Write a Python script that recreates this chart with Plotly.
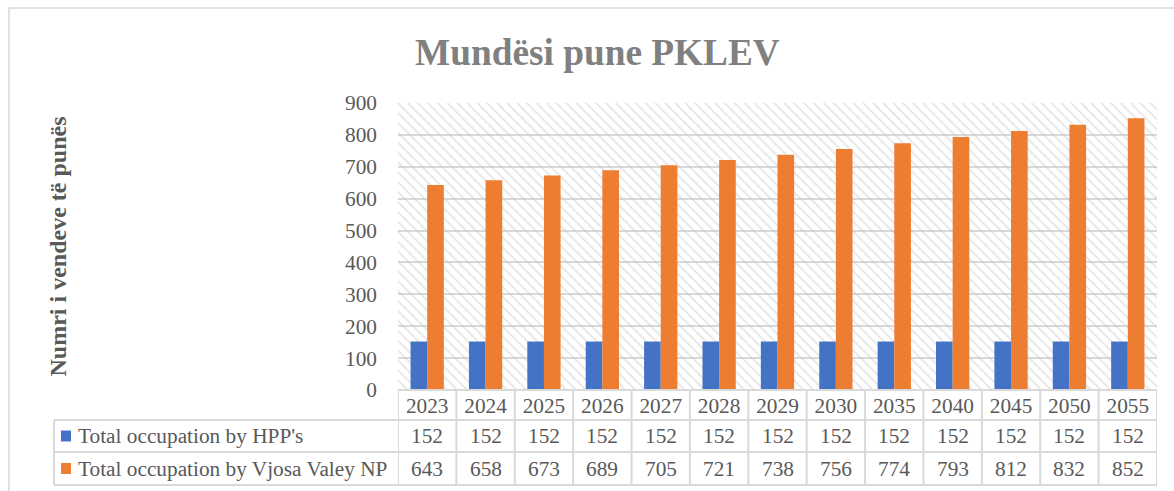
import plotly.graph_objects as go

years = ["2023", "2024", "2025", "2026", "2027", "2028", "2029", "2030", "2035", "2040", "2045", "2050", "2055"]
hpp = [152, 152, 152, 152, 152, 152, 152, 152, 152, 152, 152, 152, 152]
vjosa = [643, 658, 673, 689, 705, 721, 738, 756, 774, 793, 812, 832, 852]
series_names = ["Total occupation by HPP's", "Total occupation by Vjosa Valey NP"]
series_colors = ["#4472C4", "#ED7D31"]
y_ticks = [0, 100, 200, 300, 400, 500, 600, 700, 800, 900]

W, H = 1174, 491
FONT = "Liberation Serif"
FS = 21.3
GRID = "#d9d9d9"
TXT = "#595959"


def px(x):
    return x / W


def py(y):
    return 1 - y / H


PL, PR, PT, PB = 398, 1157, 103, 390  # plot area in pixels
ROWS = [390, 420, 452, 485]           # table row boundaries
TL = 54                               # table left edge

fig = go.Figure()

# hatched plot-area background on the primary (hidden) axes
fig.add_trace(go.Scatter(
    x=[0, 1, 1, 0, 0], y=[0, 0, 1, 1, 0], mode="lines", fill="toself",
    line=dict(width=0), fillcolor="rgba(0,0,0,0)",
    fillpattern=dict(shape="\\", size=7, solidity=0.22, fgcolor="#c4c4c4",
                     bgcolor="rgba(0,0,0,0)", fillmode="overlay"),
    hoverinfo="skip", showlegend=False, xaxis="x", yaxis="y"))

for vals, name, col in zip([hpp, vjosa], series_names, series_colors):
    fig.add_trace(go.Bar(x=years, y=vals, name=name, marker_color=col,
                         marker_line_width=0, xaxis="x2", yaxis="y2",
                         showlegend=False))

fig.update_layout(
    width=W, height=H, margin=dict(l=0, r=0, t=0, b=0, pad=0, autoexpand=False),
    autosize=False,
    paper_bgcolor="white", plot_bgcolor="white",
    barmode="group", bargap=0.43, bargroupgap=0,
    font=dict(family=FONT, color=TXT, size=FS),
    xaxis=dict(domain=[px(PL), px(PR)], range=[0, 1], visible=False, fixedrange=True,
               automargin=False),
    yaxis=dict(domain=[py(PB), py(PT)], range=[0, 1], visible=False, fixedrange=True,
               automargin=False),
    xaxis2=dict(overlaying="x", type="category", categoryorder="array",
                categoryarray=years, range=[-0.5, len(years) - 0.5],
                showgrid=False, showline=False, ticks="", zeroline=False,
                automargin=False,
                tickfont=dict(family=FONT, size=FS, color=TXT),
                ticklabelstandoff=1),
    yaxis2=dict(overlaying="y", range=[0, 900], tickvals=y_ticks,
                showgrid=True, gridcolor=GRID, gridwidth=1.8, zeroline=False,
                showline=False, ticks="", automargin=False,
                tickfont=dict(family=FONT, size=FS, color=TXT),
                ticklabelstandoff=20),
)

shapes = []
line = dict(color=GRID, width=2)
# outer chart border
shapes.append(dict(type="rect", xref="paper", yref="paper",
                   x0=px(9), x1=px(1190), y0=py(8), y1=py(500),
                   line=dict(color=GRID, width=1.5), layer="below"))
# table horizontal lines
shapes.append(dict(type="line", xref="paper", yref="paper", x0=px(PL), x1=px(PR),
                   y0=py(ROWS[0]), y1=py(ROWS[0]), line=line))
for r in ROWS[1:]:
    shapes.append(dict(type="line", xref="paper", yref="paper", x0=px(TL), x1=px(PR),
                       y0=py(r), y1=py(r), line=line))
# table vertical lines
shapes.append(dict(type="line", xref="paper", yref="paper", x0=px(TL), x1=px(TL),
                   y0=py(ROWS[1]), y1=py(ROWS[3]), line=line))
for i in range(len(years) + 1):
    shapes.append(dict(type="line", xref="x2", yref="paper", x0=i - 0.5, x1=i - 0.5,
                       y0=py(ROWS[0]), y1=py(ROWS[3]), line=line))

annotations = []
for ri, (vals, name, col) in enumerate(zip([hpp, vjosa], series_names, series_colors)):
    top, bot = ROWS[ri + 1], ROWS[ri + 2]
    yc = (top + bot) / 2
    shapes.append(dict(type="rect", xref="paper", yref="paper",
                       x0=px(61), x1=px(71), y0=py(yc - 5.5), y1=py(yc + 5.5),
                       fillcolor=col, line=dict(width=0)))
    annotations.append(dict(xref="paper", yref="paper", x=px(76), y=py(yc),
                            xanchor="left", yanchor="middle", showarrow=False,
                            text=name, font=dict(family=FONT, size=FS, color=TXT)))
    for i, v in enumerate(vals):
        annotations.append(dict(xref="x2", yref="paper", x=i, y=py(yc),
                                xanchor="center", yanchor="middle", showarrow=False,
                                text=str(v), font=dict(family=FONT, size=FS, color=TXT)))

# title
annotations.append(dict(xref="paper", yref="paper", x=px(597), y=py(52),
                        xanchor="center", yanchor="middle", showarrow=False,
                        text="<b>Mundësi pune PKLEV</b>",
                        font=dict(family=FONT, size=37.3, color="#808080")))
# y-axis title
annotations.append(dict(xref="paper", yref="paper", x=px(57.5), y=py(247),
                        xanchor="center", yanchor="middle", showarrow=False,
                        textangle=-90, text="<b>Numri i vendeve të punës</b>",
                        font=dict(family=FONT, size=24, color=TXT)))

fig.update_layout(shapes=shapes, annotations=annotations)
fig.write_html("out.html", config={"displayModeBar": False},
               post_script="document.body.style.margin='0';document.body.style.overflow='hidden';")
